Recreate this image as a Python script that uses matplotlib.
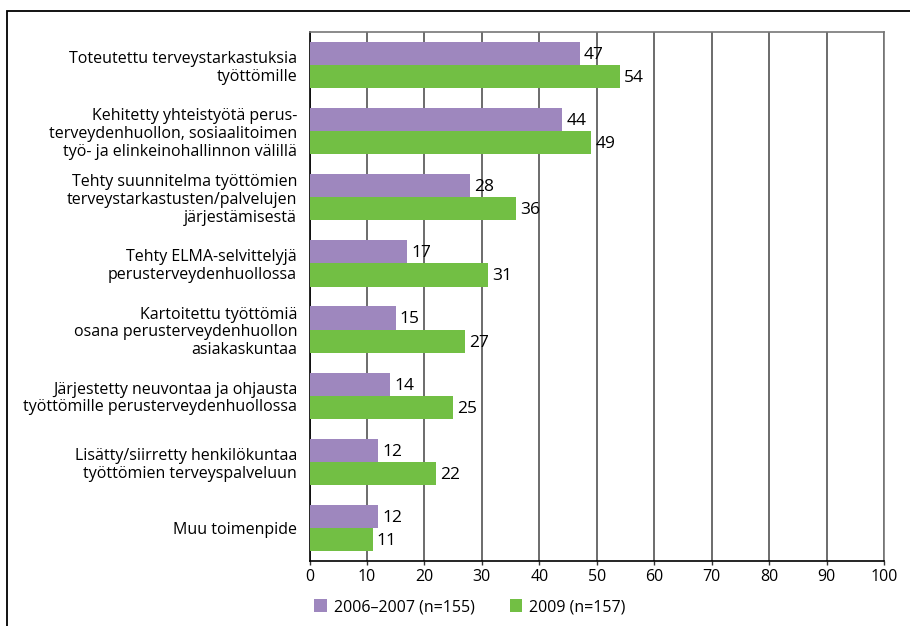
import matplotlib.pyplot as plt
import matplotlib.patches as mpatches
import numpy as np

plt.rcParams['font.family'] = ['Open Sans', 'DejaVu Sans']

categories = [
    "Toteutettu terveystarkastuksia\ntyöttömille",
    "Kehitetty yhteistyötä perus-\nterveydenhuollon, sosiaalitoimen\ntyö- ja elinkeinohallinnon välillä",
    "Tehty suunnitelma työttömien\nterveystarkastusten/palvelujen\njärjestämisestä",
    "Tehty ELMA-selvittelyjä\nperusterveydenhuollossa",
    "Kartoitettu työttömiä\nosana perusterveydenhuollon\nasiakaskuntaa",
    "Järjestetty neuvontaa ja ohjausta\ntyöttömille perusterveydenhuollossa",
    "Lisätty/siirretty henkilökuntaa\ntyöttömien terveyspalveluun",
    "Muu toimenpide",
]
values_2006 = [47, 44, 28, 17, 15, 14, 12, 12]
values_2009 = [54, 49, 36, 31, 27, 25, 22, 11]
series_names = ["2006–2007 (n=155)", "2009 (n=157)"]
xticks = [0, 10, 20, 30, 40, 50, 60, 70, 80, 90, 100]

purple = "#9e87be"
green = "#72bf44"

fig = plt.figure(figsize=(9.10, 6.26), dpi=100)
ax = fig.add_axes([309.5 / 910, 65 / 626, 574.5 / 910, 529 / 626])

y = np.arange(len(categories))
h = 0.35
b1 = ax.barh(y - h / 2, values_2006, height=h, color=purple, label=series_names[0], zorder=3)
b2 = ax.barh(y + h / 2, values_2009, height=h, color=green, label=series_names[1], zorder=3)

# value labels just after the bar ends
for bars, vals in ((b1, values_2006), (b2, values_2009)):
    for rect, v in zip(bars, vals):
        ax.annotate(str(v), (v, rect.get_y() + rect.get_height() / 2),
                    xytext=(3, -1), textcoords="offset points",
                    va="center", ha="left", fontsize=12.5, zorder=4)

ax.set_xlim(0, 100)
ax.set_ylim(len(categories) - 0.5, -0.5)
ax.set_xticks(xticks)
ax.set_xticklabels([str(t) for t in xticks], fontsize=11.5)
ax.set_yticks(y)
ax.set_yticklabels(categories, fontsize=11.5, linespacing=1.15)
ax.tick_params(axis="y", length=0, pad=9)
ax.tick_params(axis="x", length=3, width=1, color="#333333", pad=3)

ax.grid(axis="x", color="#444444", linewidth=1.1, zorder=1)
ax.spines["left"].set_color("black")
ax.spines["bottom"].set_color("black")
ax.spines["top"].set_color("#777777")
ax.spines["right"].set_color("#777777")
for s in ax.spines.values():
    s.set_linewidth(1.2)

# legend below the axis
fig.legend(handles=[b1, b2], labels=series_names, loc="center left",
           bbox_to_anchor=(300 / 910, 1 - 607 / 626), ncol=2, frameon=False,
           fontsize=11.5, handlelength=0.8, handleheight=0.8, handletextpad=0.4,
           columnspacing=2.2)

# frame around the figure (open at right and bottom)
fig.add_artist(mpatches.Rectangle((7 / 910, -0.1), 1.1, 1.1 - 11.5 / 626,
                                  transform=fig.transFigure, fill=False,
                                  edgecolor="black", linewidth=1.3))

fig.savefig("out.png", dpi=100)
